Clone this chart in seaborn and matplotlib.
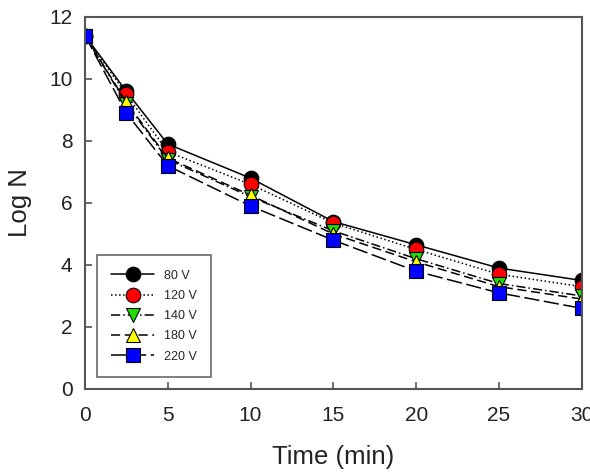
import matplotlib
matplotlib.use("Agg")
import matplotlib.pyplot as plt
import seaborn as sns
import pandas as pd

time_min = [0, 2.5, 5, 10, 15, 20, 25, 30]
v80 = [11.4, 9.6, 7.9, 6.8, 5.4, 4.65, 3.9, 3.5]
v120 = [11.4, 9.5, 7.65, 6.6, 5.35, 4.5, 3.7, 3.3]
v140 = [11.4, 9.2, 7.4, 6.2, 5.1, 4.2, 3.4, 3.0]
v180 = [11.4, 9.25, 7.45, 6.25, 5.0, 4.1, 3.3, 2.9]
v220 = [11.4, 8.9, 7.2, 5.9, 4.8, 3.8, 3.1, 2.6]
labels = ["80 V", "120 V", "140 V", "180 V", "220 V"]

sns.set_style("ticks")
plt.rcParams["font.family"] = ["Liberation Sans", "DejaVu Sans"]

series = [v80, v120, v140, v180, v220]
styles = [
    ("o", "black", "-"),
    ("o", "red", ":"),
    ("v", "#22dd00", (0, (6, 2, 1, 2))),
    ("^", "yellow", (0, (6, 3))),
    ("s", "blue", (0, (10, 3))),
]

fig, ax = plt.subplots(figsize=(5.9, 4.72), dpi=100)
fig.subplots_adjust(left=0.144, right=0.986, top=0.964, bottom=0.176)

for vals, lab, (mk, col, ls) in zip(series, labels, styles):
    df = pd.DataFrame({"Time": time_min, "LogN": vals})
    sns.lineplot(data=df, x="Time", y="LogN", ax=ax, color="black",
                 linestyle=ls, linewidth=1.1, marker=mk, markersize=10.5,
                 markerfacecolor=col, markeredgecolor="black",
                 markeredgewidth=0.8, label=lab)

ax.set_xlim(0, 30)
ax.set_ylim(0, 12)
ax.set_xticks([0, 5, 10, 15, 20, 25, 30])
ax.set_yticks([0, 2, 4, 6, 8, 10, 12])
ax.tick_params(direction="in", labelsize=15, color="#555555", labelcolor="#222222",
               length=5, width=1.2)
ax.tick_params(axis="x", pad=12)
ax.tick_params(axis="y", pad=9)
for sp in ax.spines.values():
    sp.set_color("#555555")
    sp.set_linewidth(1.5)
    sp.set_visible(True)
ax.set_xlabel("Time (min)", fontsize=18.5, labelpad=15, color="#222222")
ax.set_ylabel("Log N", fontsize=18.5, labelpad=12, color="#222222")

leg = ax.legend(loc="lower left", bbox_to_anchor=(0.024, 0.032), fontsize=9,
                frameon=True, fancybox=False, edgecolor="#444444",
                handlelength=3.4, handletextpad=0.8, labelspacing=0.66,
                borderpad=1.15, borderaxespad=0, markerscale=1.0)
leg.get_frame().set_linewidth(1.2)

fig.savefig("out.png", dpi=100)
